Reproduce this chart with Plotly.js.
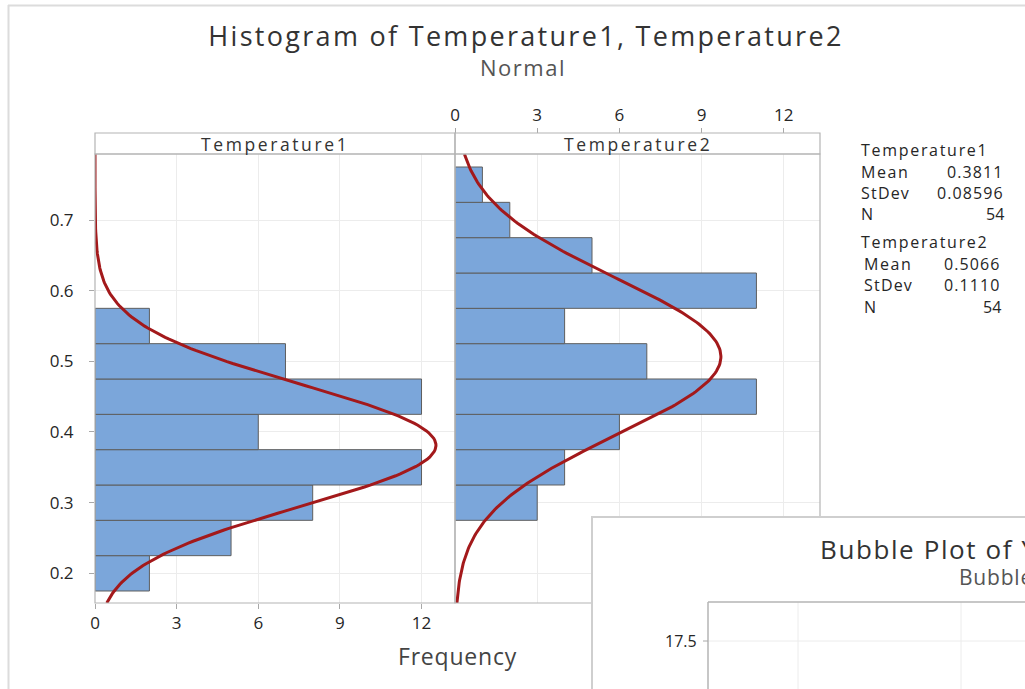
<!DOCTYPE html>
<html>
<head>
<meta charset="utf-8">
<script src="https://cdn.plot.ly/plotly-3.0.1.min.js"></script>
<style>
  html, body { margin: 0; padding: 0; overflow: hidden; background: #fff; }
  #chart { width: 1025px; height: 689px; }
</style>
</head>
<body>
<div id="chart"></div>
<script>
// Histogram bins (class midpoints) and observed frequencies
const t1Mid  = [0.20, 0.25, 0.30, 0.35, 0.40, 0.45, 0.50, 0.55];
const t1Freq = [2, 5, 8, 12, 6, 12, 7, 2];
const t2Mid  = [0.30, 0.35, 0.40, 0.45, 0.50, 0.55, 0.60, 0.65, 0.70, 0.75];
const t2Freq = [3, 4, 6, 11, 7, 4, 11, 5, 2, 1];
const binWidth = 0.05;

// Summary statistics shown in the side table
const seriesNames = ['Temperature1', 'Temperature2'];
const means  = [0.3811, 0.5066];
const stdevs = [0.08596, 0.1110];
const counts = [54, 54];
const meanLabels  = ['0.3811', '0.5066'];
const stdevLabels = ['0.08596', '0.1110'];

const freqTicks = [0, 3, 6, 9, 12];
const valueTicks = [0.2, 0.3, 0.4, 0.5, 0.6, 0.7];
const yRange = [0.158, 0.7934];

const W = 1025, H = 689;
const px = v => v / W;           // pixel -> paper x
const py = v => 1 - v / H;       // pixel -> paper y

const barColor = '#7ba6da';
const barLine = '#5e5e5e';
const curveColor = '#a3191b';
const gridColor = '#ececec';
const frameColor = '#b4b4b4';
const textColor = '#262626';
const fontFam = '"Open Sans", "Noto Sans", sans-serif';

// Fitted normal curve scaled to frequency: n * binWidth * pdf(value)
function normalCurve(mean, sd, n) {
  const ys = [], xs = [];
  const steps = 240;
  for (let i = 0; i <= steps; i++) {
    const y = yRange[0] + (yRange[1] - yRange[0]) * i / steps;
    const z = (y - mean) / sd;
    ys.push(y);
    xs.push(n * binWidth * Math.exp(-0.5 * z * z) / (sd * Math.sqrt(2 * Math.PI)));
  }
  return { x: xs, y: ys };
}

const c1 = normalCurve(means[0], stdevs[0], counts[0]);
const c2 = normalCurve(means[1], stdevs[1], counts[1]);

const traces = [
  { type: 'bar', orientation: 'h', x: t1Freq, y: t1Mid, width: binWidth,
    marker: { color: barColor, line: { color: barLine, width: 1 } },
    xaxis: 'x', yaxis: 'y', hoverinfo: 'x+y', showlegend: false },
  { type: 'scatter', mode: 'lines', x: c1.x, y: c1.y,
    line: { color: curveColor, width: 3 }, xaxis: 'x', yaxis: 'y',
    showlegend: false, cliponaxis: true },
  { type: 'bar', orientation: 'h', x: t2Freq, y: t2Mid, width: binWidth,
    marker: { color: barColor, line: { color: barLine, width: 1 } },
    xaxis: 'x2', yaxis: 'y2', hoverinfo: 'x+y', showlegend: false },
  { type: 'scatter', mode: 'lines', x: c2.x, y: c2.y,
    line: { color: curveColor, width: 3 }, xaxis: 'x2', yaxis: 'y2',
    showlegend: false, cliponaxis: true }
];

const tickFont = { family: fontFam, size: 17, color: textColor };
const spaced = (t, s) => '<span style="letter-spacing:' + s + 'px">' + t + '</span>';

// Panel geometry (pixels)
const panelTop = 154, panelBottom = 603, stripTop = 133;
const p1 = [95, 455], p2 = [455, 820];

const axisCommon = {
  showgrid: true, gridcolor: gridColor, gridwidth: 1,
  zeroline: false, showline: false,
  ticks: 'outside', ticklen: 5, tickcolor: '#a8a8a8', tickwidth: 1,
  tickfont: tickFont, fixedrange: true
};

const layout = {
  width: W, height: H,
  margin: { l: 0, r: 0, t: 0, b: 0 },
  paper_bgcolor: '#ffffff', plot_bgcolor: '#ffffff',
  bargap: 0,
  title: {
    text: spaced('Histogram of Temperature1, Temperature2', 2.3),
    font: { family: fontFam, size: 27, color: '#333333' },
    x: px(526), xanchor: 'center', xref: 'paper',
    y: py(37), yanchor: 'middle', yref: 'paper'
  },
  xaxis: Object.assign({}, axisCommon, {
    domain: [px(p1[0]), px(p1[1])], range: [0, 13.23],
    tickvals: freqTicks, anchor: 'y'
  }),
  yaxis: Object.assign({}, axisCommon, {
    domain: [py(panelBottom), py(panelTop)], range: yRange,
    tickvals: valueTicks, tickformat: '.1f', anchor: 'x', ticklabelstandoff: 12
  }),
  xaxis2: Object.assign({}, axisCommon, {
    domain: [px(p2[0]), px(p2[1])], range: [0, 13.32],
    tickvals: freqTicks, anchor: 'free', position: py(stripTop), side: 'top'
  }),
  yaxis2: Object.assign({}, axisCommon, {
    domain: [py(panelBottom), py(panelTop)], range: yRange,
    tickvals: valueTicks, anchor: 'x2', showticklabels: false, ticks: ''
  }),
  shapes: [],
  annotations: []
};

const S = layout.shapes, A = layout.annotations;
function rect(x0, y0, x1, y1, line, fill, width) {
  S.push({ type: 'rect', xref: 'paper', yref: 'paper', layer: 'above',
    x0: px(x0), x1: px(x1), y0: py(y0), y1: py(y1),
    line: { color: line, width: width || 1 }, fillcolor: fill || 'rgba(0,0,0,0)' });
}
function seg(x0, y0, x1, y1, color, width) {
  S.push({ type: 'line', xref: 'paper', yref: 'paper', layer: 'above',
    x0: px(x0), x1: px(x1), y0: py(y0), y1: py(y1),
    line: { color: color, width: width || 1 } });
}
function label(text, x, y, opts) {
  A.push(Object.assign({ text: text, xref: 'paper', yref: 'paper', x: px(x), y: py(y),
    showarrow: false, xanchor: 'left', yanchor: 'middle',
    font: { family: fontFam, size: 15, color: textColor } }, opts || {}));
}

// Subtitle under the main title
label(spaced('Normal', 1.5), 523, 67, { xanchor: 'center', font: { family: fontFam, size: 22, color: '#555555' } });

// Graph window border
seg(8, 5.5, 1025, 5.5, '#dcdcdc', 2);
seg(8.5, 5, 8.5, 689, '#dcdcdc', 2);

// Panel frames and strip headers
rect(p1[0], panelTop, p1[1], panelBottom, frameColor, null, 1.2);
rect(p2[0], panelTop, p2[1], panelBottom, frameColor, null, 1.2);
rect(p1[0], stripTop, p1[1], panelTop, frameColor, null, 1.2);
rect(p2[0], stripTop, p2[1], panelTop, frameColor, null, 1.2);
const stripFont = { family: fontFam, size: 17.5, color: '#333333' };
label(spaced(seriesNames[0], 2.6), (p1[0] + p1[1]) / 2, 144, { xanchor: 'center', font: stripFont });
label(spaced(seriesNames[1], 2.6), (p2[0] + p2[1]) / 2, 144, { xanchor: 'center', font: stripFont });

// Shared axis title
label(spaced('Frequency', 0.8), 457, 656, { xanchor: 'center', font: { family: fontFam, size: 23, color: '#444444' } });

// Summary statistics table
const rowY = [[150, 172, 193, 214], [242, 264, 285, 307]];
const valRight = [1006, 1003];
const labLeft = [859, 862];
for (let k = 0; k < 2; k++) {
  const f = { family: fontFam, size: 16, color: textColor };
  label(spaced(seriesNames[k], 1.7), 859, rowY[k][0], { font: f });
  label(spaced('Mean', 1.6), labLeft[k], rowY[k][1], { font: f });
  label(spaced(meanLabels[k], 1.1), valRight[k], rowY[k][1], { xanchor: 'right', font: f });
  label(spaced('StDev', 1.2), labLeft[k], rowY[k][2], { font: f });
  label(spaced(stdevLabels[k], 1.1), valRight[k], rowY[k][2], { xanchor: 'right', font: f });
  label('N', labLeft[k], rowY[k][3], { font: f });
  label(String(counts[k]), valRight[k], rowY[k][3], { xanchor: 'right', font: f });
}

// Second graph window lying on top of the lower right corner
rect(592, 517, 1040, 700, '#cfcfcf', '#ffffff', 2);
seg(798, 602, 798, 689, gridColor, 1);
seg(961, 602, 961, 689, gridColor, 1);
seg(708, 641, 1025, 641, gridColor, 1);
seg(708, 602, 1030, 602, frameColor, 1.5);
seg(708, 602, 708, 689, frameColor, 1.5);
seg(703, 641, 708, 641, '#a8a8a8', 1);
label('17.5', 699, 641, { xanchor: 'right', font: { family: fontFam, size: 16, color: textColor } });
label(spaced('Bubble Plot of Y vs X', 1.6), 818, 549, { font: { family: fontFam, size: 26, color: '#333333' } });
label(spaced('Bubble size: Z', 0.8), 957, 577, { font: { family: fontFam, size: 21, color: '#555555' } });

Plotly.newPlot('chart', traces, layout, { displayModeBar: false, staticPlot: true });
</script>
</body>
</html>
